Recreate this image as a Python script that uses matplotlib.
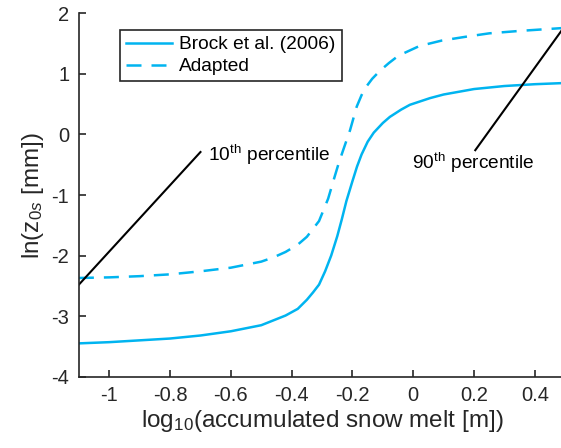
import matplotlib
matplotlib.use("Agg")
import matplotlib.pyplot as plt

plt.rcParams['font.family'] = ['Liberation Sans', 'DejaVu Sans']
plt.rcParams['mathtext.fontset'] = 'custom'
plt.rcParams['mathtext.rm'] = 'Liberation Sans'
plt.rcParams['mathtext.it'] = 'Liberation Sans:italic'
plt.rcParams['axes.unicode_minus'] = False

# Brock et al. (2006) curve
brock_x = [-1.1, -1.0, -0.9, -0.8, -0.7, -0.6, -0.5, -0.42, -0.38, -0.35, -0.33, -0.31,
           -0.29, -0.27, -0.25, -0.235, -0.22, -0.20, -0.185, -0.17, -0.15, -0.13,
           -0.10, -0.077, -0.04, -0.011, 0.055, 0.1, 0.2, 0.3, 0.4, 0.5]
brock_y = [-3.45, -3.43, -3.40, -3.37, -3.32, -3.25, -3.15, -2.99, -2.88, -2.73, -2.61, -2.48,
           -2.26, -2.00, -1.68, -1.40, -1.10, -0.77, -0.53, -0.33, -0.12, 0.03,
           0.19, 0.29, 0.41, 0.49, 0.60, 0.66, 0.75, 0.80, 0.83, 0.85]

# adapted curve
adapt_x = [-1.1, -1.0, -0.9, -0.8, -0.7, -0.6, -0.5, -0.46, -0.42, -0.38, -0.35, -0.31,
           -0.28, -0.26, -0.245, -0.23, -0.208, -0.186, -0.17, -0.159, -0.135, -0.11,
           -0.08, -0.049, 0.02, 0.093, 0.168, 0.25, 0.35, 0.5]
adapt_y = [-2.37, -2.36, -2.34, -2.31, -2.26, -2.20, -2.10, -2.03, -1.94, -1.82, -1.69, -1.43,
           -1.06, -0.72, -0.47, -0.25, 0.07, 0.46, 0.65, 0.76, 0.92, 1.05,
           1.18, 1.30, 1.46, 1.55, 1.61, 1.67, 1.71, 1.76]

# percentile marker lines
p10_x = [-1.1, -0.70]
p10_y = [-2.48, -0.29]
p90_x = [0.204, 0.5]
p90_y = [-0.26, 1.80]

blue = '#00B4F0'
dark = '#262626'

fig = plt.figure(figsize=(5.61, 4.48), dpi=100)
ax = fig.add_axes([0.1406, 0.1592, 0.867, 0.811])

ax.plot(brock_x, brock_y, color=blue, lw=1.8, label='Brock et al. (2006)')
ax.plot(adapt_x, adapt_y, color=blue, lw=1.8, dashes=(6, 4), label='Adapted')
ax.plot(p10_x, p10_y, color='black', lw=1.5)
ax.plot(p90_x, p90_y, color='black', lw=1.5)

ax.text(-0.675, -0.34, r'10$^{\mathrm{th}}$ percentile', fontsize=13.8, va='center', ha='left')
ax.text(-0.003, -0.47, r'90$^{\mathrm{th}}$ percentile', fontsize=13.8, va='center', ha='left')

ax.set_xlim(-1.1, 0.5)
ax.set_ylim(-4, 2)
ax.set_xticks([-1, -0.8, -0.6, -0.4, -0.2, 0, 0.2, 0.4])
ax.set_xticklabels(['-1', '-0.8', '-0.6', '-0.4', '-0.2', '0', '0.2', '0.4'])
ax.set_yticks([-4, -3, -2, -1, 0, 1, 2])

for s in ['top', 'right']:
    ax.spines[s].set_visible(False)
for s in ['left', 'bottom']:
    ax.spines[s].set_linewidth(1.2)
    ax.spines[s].set_color(dark)
ax.tick_params(direction='in', length=5, width=1.2, colors=dark, labelsize=14.5, pad=7)

ax.set_xlabel(r'log$_{10}$(accumulated snow melt [m])', fontsize=17.5, color=dark, labelpad=2)
ax.set_ylabel(r'ln(z$_{0s}$ [mm])', fontsize=17.5, color=dark, labelpad=4)

leg = ax.legend(loc='upper left', bbox_to_anchor=(0.0845, 0.954), borderaxespad=0,
                fontsize=13.8, fancybox=False, framealpha=1, edgecolor=dark,
                handlelength=2.4, borderpad=0.3, labelspacing=0.25, handletextpad=0.4)
leg.get_frame().set_linewidth(1.2)

fig.savefig('out.png', dpi=100)
